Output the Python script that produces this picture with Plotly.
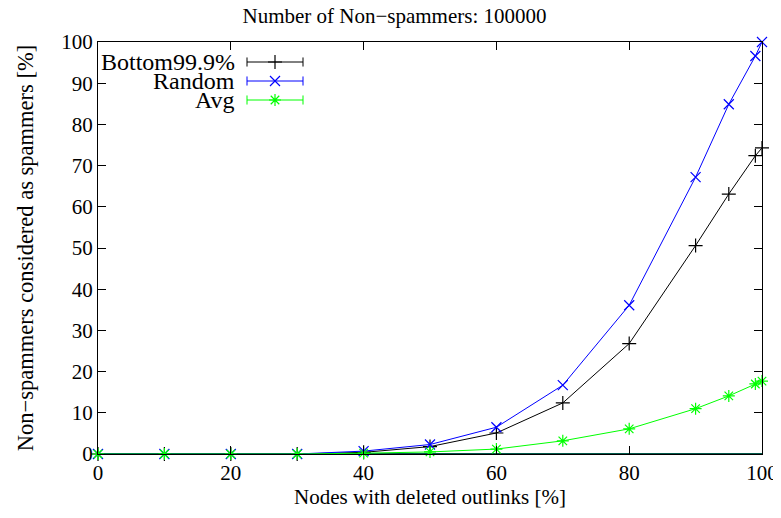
import plotly.graph_objects as go

x_vals = [0, 10, 20, 30, 40, 50, 60, 70, 80, 90, 95, 99, 100]
bottom999 = [0, 0, 0, 0, 0.4, 1.8, 5.1, 12.4, 26.8, 50.6, 63.1, 72.4, 74.3]
random_ = [0, 0, 0, 0, 0.7, 2.3, 6.5, 16.7, 36.1, 67.2, 84.9, 96.6, 100]
avg = [0, 0, 0, 0, 0.2, 0.5, 1.2, 3.2, 6.1, 11.0, 14.1, 17.0, 17.7]

series_names = ["Bottom99.9%", "Random", "Avg"]
series_colors = ["#000000", "#0000ff", "#00ff00"]
series_symbols = ["cross-thin-open", "x-thin-open", "asterisk-open"]
series_data = [bottom999, random_, avg]

title_text = "Number of Non\u2212spammers: 100000"
x_title = "Nodes with deleted outlinks [%]"
y_title = "Non\u2212spammers considered as spammers [%]"

font_family = "Liberation Serif"
FS = 21

fig = go.Figure()
for name, col, sym, ys in zip(series_names, series_colors, series_symbols, series_data):
    fig.add_trace(go.Scatter(
        x=x_vals, y=ys, mode="lines+markers", name=name,
        line=dict(color=col, width=1),
        marker=dict(symbol=sym, size=10, color=col, line=dict(color=col, width=1.2)),
        showlegend=False, cliponaxis=False,
    ))

# manual gnuplot-style legend (text left of sample)
# figure is offset by the 8px body margin: plot area = 664 x 412 px
def px2paper(px, py):
    return (px - 98) / 664.0, (454 - py) / 412.0

leg_rows_px = [62, 81, 100]
shapes = [dict(type="line", xref="paper", yref="paper", x0=0, x1=1, y0=0, y1=0,
               line=dict(color="#03594a", width=2), layer="below")]
annotations = []
for name, col, sym, rpx in zip(series_names, series_colors, series_symbols, leg_rows_px):
    xt, yr = px2paper(236, rpx)
    x0, _ = px2paper(247, rpx)
    x1, _ = px2paper(303, rpx)
    xm, _ = px2paper(275, rpx)
    annotations.append(dict(xref="paper", yref="paper", x=xt, y=yr, text=name,
                            showarrow=False, xanchor="right", yanchor="middle",
                            borderpad=0,
                            font=dict(family=font_family, size=24, color="black")))
    shapes.append(dict(type="line", xref="paper", yref="paper", x0=x0, x1=x1,
                       y0=yr, y1=yr, line=dict(color=col, width=1)))
    for xc in (x0, x1):
        shapes.append(dict(type="line", xref="paper", yref="paper", x0=xc, x1=xc,
                           y0=yr - 0.011, y1=yr + 0.011, line=dict(color=col, width=1)))
    fig.add_trace(go.Scatter(
        x=[xm], y=[yr], xaxis="x2", yaxis="y2", mode="markers", showlegend=False,
        marker=dict(symbol=sym, size=10, color=col, line=dict(color=col, width=1.2)),
        hoverinfo="skip",
    ))

axis_common = dict(showgrid=False, zeroline=False, showline=True, linecolor="black",
                   linewidth=1, mirror="ticks", ticks="inside", ticklen=8,
                   tickcolor="black", tickfont=dict(family=font_family, size=FS, color="black"))

fig.update_layout(
    width=773, height=510,
    margin=dict(l=90, r=19, t=34, b=64, autoexpand=False),
    plot_bgcolor="white", paper_bgcolor="white",
    title=dict(text=title_text, x=0.5, xanchor="center", y=1 - 8 / 510, yanchor="middle",
               font=dict(family=font_family, size=FS, color="black")),
    xaxis=dict(range=[0, 100], tickvals=[0, 20, 40, 60, 80, 100],
               title=dict(text=x_title, font=dict(family=font_family, size=FS, color="black"), standoff=2),
               **axis_common),
    yaxis=dict(range=[0, 100], tickvals=list(range(0, 101, 10)),
               title=dict(text=y_title, font=dict(family=font_family, size=22.5, color="black"), standoff=21),
               **axis_common),
    xaxis2=dict(range=[0, 1], overlaying="x", visible=False),
    yaxis2=dict(range=[0, 1], overlaying="y", visible=False),
    shapes=shapes, annotations=annotations,
)

fig.write_html("out.html")
